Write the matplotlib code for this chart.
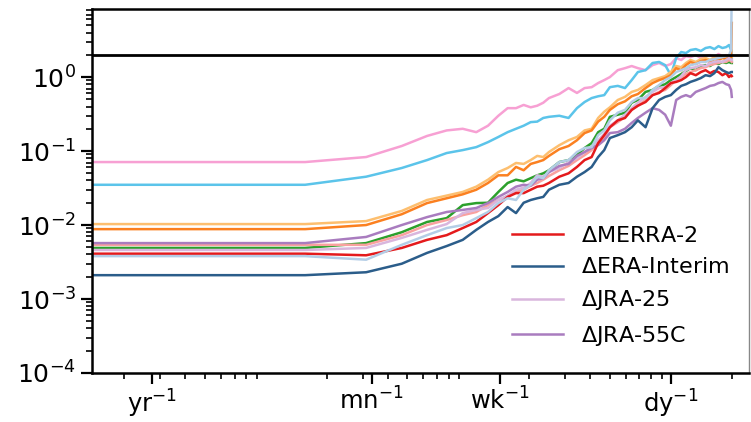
import matplotlib
matplotlib.use("Agg")
import matplotlib.pyplot as plt
import numpy as np

# frequency in cycles per day (first point = 2-year period, rest = harmonics of a 64-day window)
freq = [1/730, 0.015625, 0.03125, 0.046875, 0.0625, 0.078125, 0.09375, 0.109375, 0.125,
        0.140625, 0.15625, 0.171875, 0.1875, 0.203125, 0.21875, 0.234375, 0.25,
        0.28125, 0.3125, 0.34375, 0.375, 0.40625, 0.4375, 0.46875, 0.5,
        0.546875, 0.59375, 0.640625, 0.6875, 0.75, 0.8125, 0.875, 0.9375, 1.0,
        1.0625, 1.125, 1.1875, 1.25, 1.328125, 1.40625, 1.484375, 1.5625,
        1.640625, 1.71875, 1.796875, 1.875, 1.9375, 1.984375, 2.0]

pink = [0.071, 0.071, 0.083, 0.117, 0.16, 0.19, 0.20, 0.18, 0.22, 0.30, 0.38, 0.38, 0.42, 0.39, 0.41, 0.45,
        0.52, 0.59, 0.71, 0.61, 0.71, 0.73, 0.83, 0.91, 1.0, 1.24, 1.32, 1.41, 1.32, 1.24, 1.45, 1.55,
        1.41, 1.50, 1.81, 1.70, 1.92, 1.86, 1.98, 1.81, 1.92, 1.98, 1.86, 2.05, 1.92, 1.98, 1.86, 1.81, 1.81]
skyblue = [0.035, 0.035, 0.045, 0.059, 0.0755, 0.094, 0.103, 0.113, 0.132, 0.155, 0.18, 0.20, 0.22, 0.246,
           0.25, 0.28, 0.29, 0.30, 0.28, 0.38, 0.46, 0.52, 0.55, 0.57, 0.73, 0.76, 0.71, 0.91, 1.17, 1.24,
           1.55, 1.60, 1.45, 1.06, 1.81, 2.18, 2.11, 2.32, 2.39, 2.25, 2.47, 2.54, 2.39, 2.62, 2.47, 2.54,
           2.71, 2.32, 1.70]
lightorange = [0.0103, 0.0103, 0.0113, 0.0155, 0.0218, 0.025, 0.028, 0.033, 0.041, 0.052, 0.059, 0.069,
               0.067, 0.0755, 0.086, 0.083, 0.097, 0.12, 0.14, 0.155, 0.19, 0.20, 0.28, 0.34, 0.39, 0.49,
               0.54, 0.63, 0.67, 0.78, 0.91, 0.97, 1.03, 1.17, 1.41, 1.36, 1.55, 1.70, 1.60, 1.75, 1.81,
               1.70, 1.86, 1.81, 1.92, 1.86, 1.92, 1.86, 1.86]
orange = [0.0088, 0.0088, 0.0100, 0.014, 0.0198, 0.023, 0.026, 0.030, 0.037, 0.047, 0.047, 0.061, 0.055,
          0.067, 0.071, 0.0755, 0.086, 0.106, 0.117, 0.14, 0.175, 0.19, 0.25, 0.29, 0.36, 0.43, 0.47, 0.55,
          0.59, 0.71, 0.83, 0.91, 0.97, 1.06, 1.32, 1.24, 1.45, 1.60, 1.50, 1.64, 1.70, 1.60, 1.75, 1.70,
          1.81, 1.75, 1.86, 1.86, 5.4]
green = [0.0049, 0.0049, 0.0057, 0.008, 0.011, 0.0124, 0.0186, 0.0198, 0.020, 0.028, 0.037, 0.041, 0.039,
         0.043, 0.047, 0.050, 0.055, 0.071, 0.0755, 0.088, 0.11, 0.128, 0.18, 0.20, 0.29, 0.31, 0.33, 0.45,
         0.49, 0.63, 0.67, 0.76, 0.80, 0.91, 1.0, 1.10, 1.21, 1.32, 1.24, 1.41, 1.45, 1.41, 1.55, 1.50,
         1.60, 1.55, 1.60, 1.55, 1.55]
salmon = [0.0054, 0.0054, 0.0054, 0.0073, 0.010, 0.0117, 0.0136, 0.015, 0.0186, 0.0218, 0.0246, 0.028,
          0.030, 0.034, 0.037, 0.041, 0.046, 0.055, 0.063, 0.0755, 0.088, 0.103, 0.132, 0.15, 0.21, 0.246,
          0.29, 0.36, 0.41, 0.49, 0.57, 0.63, 0.67, 0.78, 0.91, 1.0, 1.10, 1.17, 1.24, 1.32, 1.36, 1.45,
          1.50, 1.55, 1.60, 1.60, 1.70, 1.64, 1.60]
jra25 = [0.0046, 0.0046, 0.0049, 0.0067, 0.0086, 0.0103, 0.0145, 0.016, 0.017, 0.0218, 0.025, 0.030, 0.032,
         0.037, 0.047, 0.045, 0.052, 0.059, 0.071, 0.080, 0.097, 0.113, 0.14, 0.17, 0.22, 0.26, 0.31, 0.38,
         0.45, 0.54, 0.63, 0.71, 0.73, 0.83, 0.91, 1.03, 1.24, 1.32, 1.36, 1.45, 1.41, 1.55, 1.60, 1.64,
         1.60, 1.70, 1.81, 1.70, 1.70]
jra55c = [0.0057, 0.0057, 0.0069, 0.010, 0.0128, 0.015, 0.016, 0.017, 0.0198, 0.024, 0.028, 0.033, 0.035,
          0.034, 0.041, 0.043, 0.052, 0.063, 0.067, 0.086, 0.097, 0.11, 0.12, 0.14, 0.175, 0.18, 0.20, 0.24,
          0.28, 0.33, 0.38, 0.36, 0.31, 0.22, 0.49, 0.54, 0.57, 0.54, 0.63, 0.67, 0.71, 0.76, 0.78, 0.83,
          0.86, 0.80, 0.78, 0.67, 0.54]
lightblue = [0.0038, 0.0038, 0.0034, 0.0054, 0.0073, 0.0091, 0.010, 0.0124, 0.015, 0.0198, 0.023, 0.0218,
             0.030, 0.035, 0.045, 0.043, 0.055, 0.071, 0.0755, 0.097, 0.11, 0.113, 0.164, 0.19, 0.26, 0.33,
             0.36, 0.46, 0.52, 0.52, 0.67, 0.78, 0.91, 1.0, 1.17, 1.24, 1.32, 1.45, 1.50, 1.60, 1.60, 1.70,
             1.75, 1.81, 1.86, 1.92, 1.98, 2.32, 20.0]
merra2 = [0.0041, 0.0041, 0.0039, 0.0049, 0.0063, 0.0073, 0.0091, 0.011, 0.0145, 0.0186, 0.024, 0.027, 0.027,
          0.030, 0.033, 0.034, 0.037, 0.045, 0.050, 0.061, 0.0755, 0.083, 0.128, 0.164, 0.21, 0.26, 0.28,
          0.36, 0.41, 0.46, 0.57, 0.61, 0.71, 0.83, 0.86, 0.91, 1.0, 1.13, 1.06, 1.17, 1.24, 1.13, 1.21,
          1.17, 1.06, 1.13, 1.0, 1.06, 1.03]
erai = [0.0021, 0.0021, 0.0023, 0.0030, 0.0042, 0.0052, 0.0063, 0.0086, 0.011, 0.0132, 0.0175, 0.0145, 0.020,
        0.0218, 0.023, 0.024, 0.030, 0.035, 0.037, 0.045, 0.052, 0.061, 0.083, 0.103, 0.15, 0.164, 0.18,
        0.21, 0.26, 0.21, 0.38, 0.49, 0.54, 0.57, 0.67, 0.76, 0.80, 0.86, 0.91, 0.97, 1.06, 1.03, 1.13,
        1.36, 1.24, 1.17, 1.13, 1.17, 1.17]

tick_freqs = [1/365, 1/30, 1/7, 1.0]
tick_labels = [r'$\mathregular{yr^{-1}}$', r'$\mathregular{mn^{-1}}$',
               r'$\mathregular{wk^{-1}}$', r'$\mathregular{dy^{-1}}$']
threshold = 2.0

fig = plt.figure(figsize=(7.51, 4.22), dpi=100)
ax = fig.add_axes([92/751, 49/422, 657/751, 364/422])

lw = 1.8
unlabeled = [(pink, '#f7a0d3'), (skyblue, '#5bc4ea'), (lightorange, '#fdbf6f'), (orange, '#fb8020'),
             (green, '#2ca02c'), (salmon, '#f9a19f')]
for vals, c in unlabeled:
    ax.plot(freq, vals, color=c, lw=lw)
ax.plot(freq, jra25, color='#d9b6dd', lw=lw, label=r'$\Delta$JRA-25')
ax.plot(freq, jra55c, color='#a97cbf', lw=lw, label=r'$\Delta$JRA-55C')
ax.plot(freq, merra2, color='#e41a1c', lw=lw, label=r'$\Delta$MERRA-2')
ax.plot(freq, erai, color='#2b5d8a', lw=lw, label=r'$\Delta$ERA-Interim')
ax.plot(freq, lightblue, color='#b3cde6', lw=lw)

ax.axhline(threshold, color='black', lw=2)

ax.set_xscale('log')
ax.set_yscale('log')
ax.set_xlim(10**-2.859, 10**0.386)
ax.set_ylim(1e-4, 10**0.92)
ax.set_xticks(tick_freqs)
ax.set_xticklabels(tick_labels)
ax.tick_params(axis='both', which='major', labelsize=18, length=8, width=1.6)
ax.tick_params(axis='x', which='major', labelsize=17.5, pad=2.5)
ax.tick_params(axis='both', which='minor', length=4.5, width=1.2)
for side in ['left', 'bottom', 'top']:
    ax.spines[side].set_linewidth(1.8)
ax.spines['right'].set_linewidth(1.0)
ax.spines['right'].set_color('#888888')

h, l = ax.get_legend_handles_labels()
order = [l.index(r'$\Delta$MERRA-2'), l.index(r'$\Delta$ERA-Interim'), l.index(r'$\Delta$JRA-25'),
         l.index(r'$\Delta$JRA-55C')]
ax.legend([h[i] for i in order], [l[i] for i in order], loc='lower right', frameon=False,
          fontsize=16, handlelength=2.3, labelspacing=0.5, bbox_to_anchor=(1.0, 0.015))

fig.savefig('out.png', dpi=100)
